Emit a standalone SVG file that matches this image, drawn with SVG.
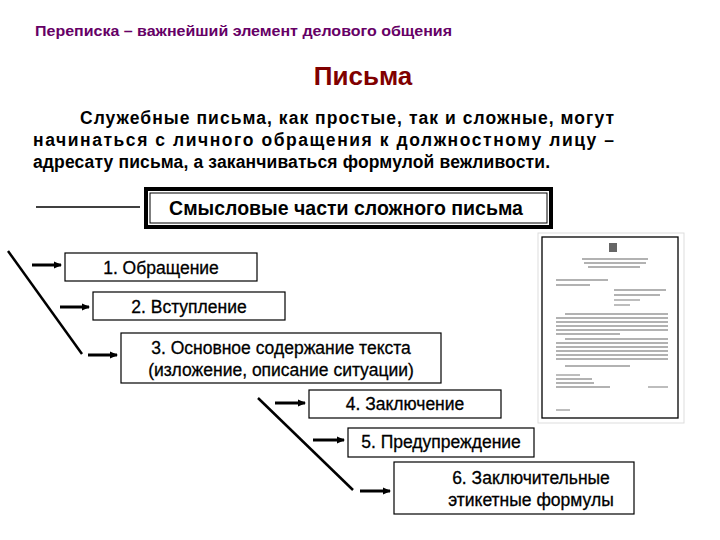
<svg xmlns="http://www.w3.org/2000/svg" width="720" height="540" viewBox="0 0 720 540">
<defs>
<marker id="ah" markerWidth="8" markerHeight="8" refX="7" refY="4" orient="auto" markerUnits="userSpaceOnUse"><path d="M0,0.5 L8,4 L0,7.5 Z" fill="#000"/></marker>
<style>
.t{font-family:"Liberation Sans",Arial,sans-serif;font-weight:bold;fill:#000}
.b{fill:#fff;stroke:#000;stroke-width:1.2}
.l{font-family:"Liberation Sans",Arial,sans-serif;font-size:17.5px;fill:#000;text-anchor:middle;stroke:#000;stroke-width:0.3}
.c{stroke:#000;stroke-width:3;marker-end:url(#ah)}
.g{stroke:#999;stroke-width:1.3}
</style>
</defs>
<rect width="720" height="540" fill="#fff"/>
<text x="35" y="36" class="t" style="font-size:15.5px;fill:#660066" textLength="417" lengthAdjust="spacingAndGlyphs">Переписка – важнейший элемент делового общения</text>
<text x="363" y="85" class="t" text-anchor="middle" style="font-size:26px;fill:#800000">Письма</text>
<g class="t" style="font-size:17.5px">
<text x="80" y="124" textLength="534" lengthAdjust="spacing">Служебные письма, как простые, так и сложные, могут</text>
<text x="33" y="146" textLength="581" lengthAdjust="spacing">начинаться с личного обращения к должностному лицу –</text>
<text x="33" y="168" textLength="517" lengthAdjust="spacing">адресату письма, а заканчиваться формулой вежливости.</text>
</g>
<g id="main">
<rect x="146" y="189" width="405" height="38" fill="#fff" stroke="#000" stroke-width="4"/>
<rect x="150" y="193" width="397" height="30" fill="none" stroke="#000" stroke-width="1"/>
<text x="346" y="215" class="t" text-anchor="middle" style="font-size:19.5px">Смысловые части сложного письма</text>
</g>
<g id="n1"><rect class="b" x="65" y="253" width="192" height="28"/><text class="l" x="161" y="274">1. Обращение</text></g>
<g id="n2"><rect class="b" x="93" y="292" width="192" height="28"/><text class="l" x="189" y="313">2. Вступление</text></g>
<g id="n3"><rect class="b" x="121" y="333" width="320" height="50"/><text class="l" x="281" y="354">3. Основное содержание текста</text><text class="l" x="281" y="376">(изложение, описание ситуации)</text></g>
<g id="n4"><rect class="b" x="309" y="390" width="192" height="28"/><text class="l" x="405" y="410">4. Заключение</text></g>
<g id="n5"><rect class="b" x="348" y="428" width="186" height="29"/><text class="l" x="441" y="448">5. Предупреждение</text></g>
<g id="n6"><rect class="b" x="394" y="462" width="240" height="52"/><text class="l" x="531" y="484">6. Заключительные</text><text class="l" x="531" y="506">этикетные формулы</text></g>
<g id="connectors">
<line x1="36" y1="207" x2="140" y2="207" stroke="#000" stroke-width="1.5"/>
<line x1="8" y1="251" x2="82" y2="354" stroke="#000" stroke-width="2.5"/>
<line x1="258" y1="398" x2="353" y2="490" stroke="#000" stroke-width="2.5"/>
<line class="c" x1="32" y1="265" x2="61" y2="265"/>
<line class="c" x1="60" y1="307" x2="89" y2="307"/>
<line class="c" x1="88" y1="355" x2="117" y2="355"/>
<line class="c" x1="275" y1="403" x2="305" y2="403"/>
<line class="c" x1="313" y1="440" x2="344" y2="440"/>
<line class="c" x1="360" y1="491" x2="390" y2="491"/>
</g>
<g id="document">
<rect x="538" y="233" width="146" height="190" fill="#fff" stroke="#ddd" stroke-width="1"/>
<rect x="542" y="237" width="136" height="181" fill="#fff" stroke="#000" stroke-width="1.3"/>
<rect x="609" y="243" width="8" height="9" fill="#666"/>
<g class="g">
<line x1="582" y1="259" x2="648" y2="259"/><line x1="584" y1="263" x2="646" y2="263"/><line x1="588" y1="267" x2="640" y2="267"/>
<line x1="556" y1="280" x2="608" y2="280"/><line x1="556" y1="285" x2="590" y2="285"/>
<line x1="614" y1="290" x2="666" y2="290"/><line x1="614" y1="295" x2="660" y2="295"/><line x1="614" y1="300" x2="640" y2="300"/><line x1="614" y1="305" x2="630" y2="305"/>
<line x1="565" y1="314" x2="668" y2="314"/><line x1="556" y1="318" x2="668" y2="318"/><line x1="556" y1="322" x2="668" y2="322"/><line x1="556" y1="326" x2="668" y2="326"/><line x1="556" y1="330" x2="668" y2="330"/><line x1="556" y1="334" x2="620" y2="334"/>
<line x1="565" y1="339" x2="668" y2="339"/><line x1="556" y1="343" x2="668" y2="343"/><line x1="556" y1="347" x2="668" y2="347"/><line x1="556" y1="351" x2="668" y2="351"/><line x1="556" y1="355" x2="668" y2="355"/><line x1="556" y1="359" x2="668" y2="359"/>
<line x1="565" y1="366" x2="630" y2="366"/>
<line x1="556" y1="375" x2="580" y2="375"/><line x1="556" y1="379" x2="592" y2="379"/><line x1="556" y1="383" x2="594" y2="383"/><line x1="556" y1="387" x2="610" y2="387"/><line x1="648" y1="387" x2="668" y2="387"/>
<line x1="556" y1="410" x2="570" y2="410"/>
</g>
</g>
</svg>
